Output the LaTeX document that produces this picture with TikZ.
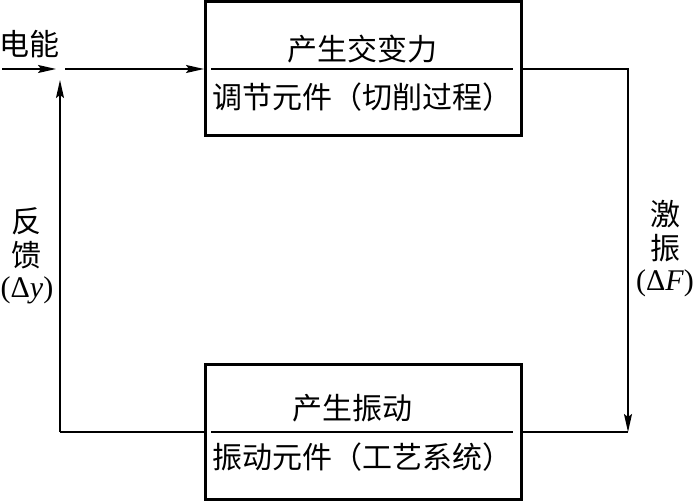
\documentclass[tikz,border=0pt]{standalone}
\usepackage{fontspec}
\newfontfamily\cjk{Noto Sans CJK SC}
\newfontfamily\tms{Liberation Serif}
\usetikzlibrary{arrows.meta}
\begin{document}
\begin{tikzpicture}[x=1pt,y=-1pt,
  box/.style={draw,line width=3pt,minimum width=316pt,minimum height=134pt,inner sep=0pt},
  conn/.style={line width=1.5pt},
  arr/.style={-{Stealth[length=18pt,width=8pt,inset=3pt]}},
  txt/.style={font=\cjk\fontsize{30}{34}\selectfont,inner sep=0pt},
  lbl/.style={font=\cjk\fontsize{30}{34}\selectfont,inner sep=0pt,align=center}]
\useasboundingbox (0,0) rectangle (696,502);
% boxes
\node[box] (top) at (363.5,69) {};
\node[box] (bot) at (363,432) {};
% dividers
\coordinate (d1a) at (211,69); \coordinate (d1b) at (513,69);
\coordinate (d2a) at (211,432); \coordinate (d2b) at (513,432);
\draw[conn] (d1a) -- (d1b);
\draw[conn] (d2a) -- (d2b);
% box texts
\node[txt] (t1) at (362,49) {产生交变力};
\node[txt] (t2) at (362,97) {调节元件（切削过程）};
\node[txt] (b1) at (352,408) {产生振动};
\node[txt] (b2) at (362,457) {振动元件（工艺系统）};
% side labels
\node[txt] (inlbl) at (29,44) {电能};
\node[lbl] (fb) at (27,256) {反\\馈\\[-3pt]{\tms\fontsize{30}{32}\selectfont (Δ\textit{y})}};
\node[lbl] (ex) at (665,249) {激\\振\\[-3pt]{\tms\fontsize{30}{32}\selectfont (Δ\textit{F})}};
% connectors
\coordinate (in0) at (2,69);
\coordinate (in1) at (56,69);
\coordinate (sum0) at (65,69);
\coordinate (fbtip) at (60,80);
\coordinate (lc) at (60,432);
\coordinate (rc1) at (628,69);
\coordinate (rc2) at (628,432);
\draw[conn,arr] (in0) -- (in1);
\draw[conn,arr] (sum0) -- (top.west);
\draw[conn,arr] (top.east) -- (rc1) -- (rc2);
\draw[conn] (bot.east) -- (rc2);
\draw[conn] (bot.west) -- (lc);
\draw[conn,arr] (lc) -- (fbtip);
\end{tikzpicture}
\end{document}
